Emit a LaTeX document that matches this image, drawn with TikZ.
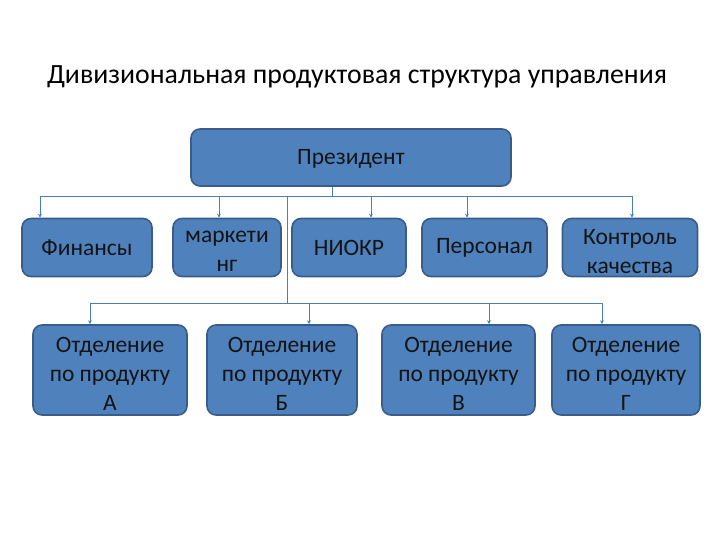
\documentclass[tikz,border=0pt]{standalone}
\usepackage{fontspec}
\setmainfont{Carlito}
\usetikzlibrary{arrows.meta}
\definecolor{boxfill}{HTML}{4F81BD}
\definecolor{boxline}{HTML}{385D8A}
\definecolor{conn}{HTML}{4A7EBB}
\definecolor{txt}{HTML}{141414}
\tikzset{
  orgbox/.style={draw=boxline, line width=1.6pt, fill=boxfill, rounded corners=9pt, inner sep=0pt},
  boxtext/.style={text=txt, align=center, inner sep=0pt, font=\fontsize{23.5}{29}\selectfont},
  conline/.style={draw=conn, line width=0.9pt},
  conarrow/.style={conline, -{Stealth[length=4pt,width=4pt]}}
}
\begin{document}
\begin{tikzpicture}[x=1pt,y=-1pt]
\useasboundingbox (0,0) rectangle (720,540);
\node[text=black, font=\fontsize{27.8}{32}\selectfont] (title) at (357,77) {Дивизиональная продуктовая структура управления};

\node[orgbox, minimum width=320pt, minimum height=57pt] (pres) at (351,157.5) {};
\node[boxtext] (pres-t) at ([yshift=-1pt]pres.center) {Президент};

\node[orgbox, minimum width=130pt, minimum height=58pt] (fin) at (87,247.5) {};
\node[orgbox, minimum width=108pt, minimum height=58pt] (mark) at (227,247.5) {};
\node[orgbox, minimum width=114pt, minimum height=58pt] (niokr) at (349,247.5) {};
\node[orgbox, minimum width=125pt, minimum height=58pt] (pers) at (484.5,247.5) {};
\node[orgbox, minimum width=135pt, minimum height=58pt] (kk) at (630,247.5) {};
\node[boxtext] (fin-t) at (fin.center) {Финансы};
\node[boxtext] (mark-t) at ([yshift=-4pt]mark.center) {маркети\\нг};
\node[boxtext] (niokr-t) at (niokr.center) {НИОКР};
\node[boxtext] (pers-t) at (pers.center) {Персонал};
\node[boxtext] (kk-t) at ([yshift=-4pt]kk.center) {Контроль\\качества};

\node[orgbox, minimum width=154pt, minimum height=90pt] (pa) at (110,370) {};
\node[orgbox, minimum width=150pt, minimum height=90pt] (pb) at (282,370) {};
\node[orgbox, minimum width=153pt, minimum height=90pt] (pv) at (458.5,370) {};
\node[orgbox, minimum width=148pt, minimum height=90pt] (pg) at (626,370) {};
\node[boxtext] (pa-t) at ([yshift=-4pt]pa.center) {Отделение\\по продукту\\А};
\node[boxtext] (pb-t) at ([yshift=-4pt]pb.center) {Отделение\\по продукту\\Б};
\node[boxtext] (pv-t) at ([yshift=-4pt]pv.center) {Отделение\\по продукту\\В};
\node[boxtext] (pg-t) at ([yshift=-4pt]pg.center) {Отделение\\по продукту\\Г};

% upper bus
\coordinate (bp) at (332,196);
\coordinate (bfin) at (40,196);
\coordinate (bmark) at (219,196);
\coordinate (bdiv) at (287,196);
\coordinate (bniokr) at (371,196);
\coordinate (bpers) at (467,196);
\coordinate (bkk) at (632,196);
\draw[conline] (pres.south -| bp) -- (bp);
\draw[conline] (bfin) -- (bkk);
\draw[conarrow] (bfin) -- (fin.north -| bfin);
\draw[conarrow] (bmark) -- (mark.north -| bmark);
\draw[conarrow] (bniokr) -- (niokr.north -| bniokr);
\draw[conarrow] (bpers) -- (pers.north -| bpers);
\draw[conarrow] (bkk) -- (kk.north -| bkk);

% lower bus
\coordinate (cdiv) at (287,303);
\coordinate (ca) at (90,303);
\coordinate (cb) at (309,303);
\coordinate (cv) at (489,303);
\coordinate (cg) at (602,303);
\draw[conline] (bdiv) -- (cdiv);
\draw[conline] (ca) -- (cg);
\draw[conarrow] (ca) -- (pa.north -| ca);
\draw[conarrow] (cb) -- (pb.north -| cb);
\draw[conarrow] (cv) -- (pv.north -| cv);
\draw[conarrow] (cg) -- (pg.north -| cg);
\end{tikzpicture}
\end{document}
